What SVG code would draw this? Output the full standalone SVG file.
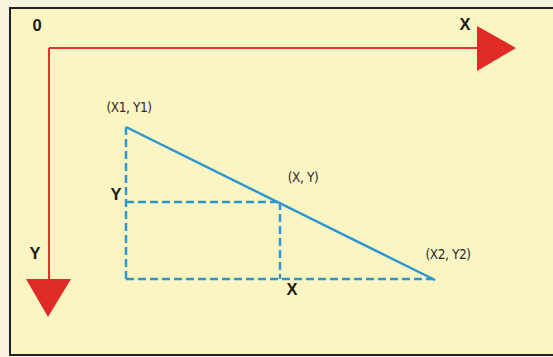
<svg xmlns="http://www.w3.org/2000/svg" width="553" height="357" viewBox="0 0 553 357">
<style>
.lbl{font-family:"Liberation Sans",Arial,sans-serif;font-weight:bold;font-size:16.5px;fill:#1a1a1a}
.pt{font-family:"DejaVu Sans Condensed","Liberation Sans",sans-serif;font-size:13.5px;fill:#2a2a2a;letter-spacing:-0.4px}
.axis{stroke:#e2342b;stroke-width:2;fill:none}
.head{fill:#e02a25}
.blue{stroke:#2d96cf;stroke-width:2.5;fill:none}
.dash{stroke:#2d96cf;stroke-width:2.5;fill:none;stroke-dasharray:8 4}
</style>
<rect x="0" y="0" width="553" height="357" fill="#f7f3df"/>
<rect x="10" y="8" width="560" height="347" fill="#fbf5c3" stroke="#222" stroke-width="2"/>
<g id="connectors">
<line class="axis" x1="49" y1="48" x2="479" y2="48"/>
<polygon class="head" points="477,26 516,48 477,71"/>
<line class="axis" x1="49" y1="48" x2="49" y2="281"/>
<polygon class="head" points="26,279 71,279 48,317"/>
<line class="blue" x1="126" y1="127" x2="435" y2="280"/>
<line class="dash" x1="126" y1="127" x2="126" y2="279"/>
<line class="dash" x1="126" y1="279" x2="435" y2="279"/>
<line class="dash" x1="126" y1="202" x2="280" y2="202"/>
<line class="dash" x1="280" y1="202" x2="280" y2="279"/>
</g>
<g id="origin"><text class="lbl" x="37" y="31" text-anchor="middle">0</text></g>
<g id="xaxis"><text class="lbl" x="465" y="30" text-anchor="middle">X</text></g>
<g id="yaxis"><text class="lbl" x="35" y="259" text-anchor="middle">Y</text></g>
<g id="p1"><text class="pt" x="129" y="112" text-anchor="middle">(X1, Y1)</text></g>
<g id="p"><text class="pt" x="303" y="182" text-anchor="middle">(X, Y)</text></g>
<g id="p2"><text class="pt" x="448" y="259" text-anchor="middle">(X2, Y2)</text></g>
<g id="ylabel"><text class="lbl" x="116" y="200" text-anchor="middle">Y</text></g>
<g id="xlabel"><text class="lbl" x="292" y="295" text-anchor="middle">X</text></g>
</svg>
